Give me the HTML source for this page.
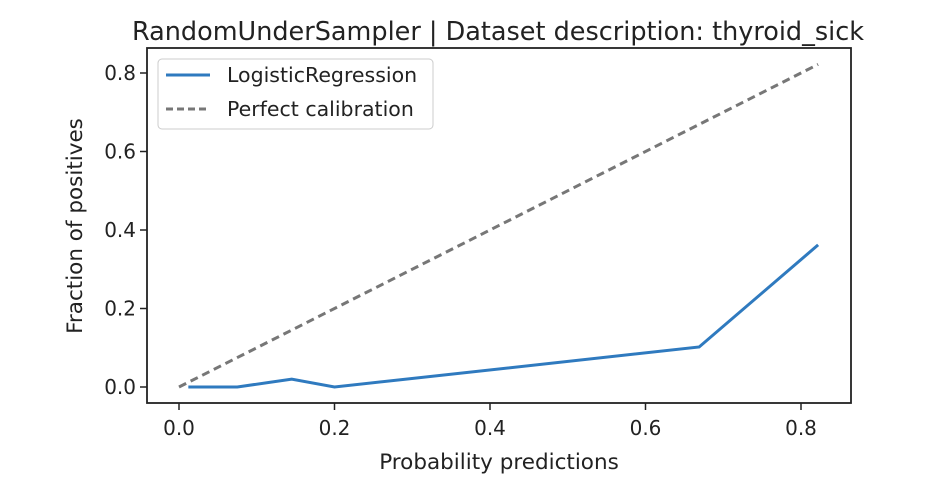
<!DOCTYPE html>
<html><head><meta charset="utf-8"><style>
body{margin:0;background:#fff;}
text{font-family:"DejaVu Sans","Liberation Sans",sans-serif;fill:#222;}
</style></head><body>
<svg id="chart" width="941" height="476" xmlns="http://www.w3.org/2000/svg">
<text x="498" y="40" font-size="25.5" text-anchor="middle">RandomUnderSampler | Dataset description: thyroid_sick</text>
<g id="plot"></g>
<text x="499" y="469" font-size="21.5" text-anchor="middle">Probability predictions</text>
<text transform="translate(82,226) rotate(-90)" font-size="21.5" text-anchor="middle">Fraction of positives</text>
<g>
<rect x="158" y="59" width="275" height="70" rx="4" fill="#fff" stroke="#ccc" stroke-width="1"/>
<line x1="166" y1="75" x2="210" y2="75" stroke="#2f7abf" stroke-width="3"/>
<text x="227" y="82" font-size="20.5">LogisticRegression</text>
<line x1="166" y1="109" x2="210" y2="109" stroke="#777" stroke-width="3" stroke-dasharray="7,4"/>
<text x="227" y="116" font-size="20.5">Perfect calibration</text>
</g>
</svg>
<script>
const probX=[0.012,0.075,0.145,0.2,0.669,0.822];
const fracY=[0,0,0.02,0,0.102,0.362];
const perfect=[0,0.822];
const xTicks=["0.0","0.2","0.4","0.6","0.8"];
const yTicks=["0.0","0.2","0.4","0.6","0.8"];
const L=147,R=851,T=48,B=403;
const xs=v=>179+777.5*v, ys=v=>387-392.5*v;
const g=document.getElementById('plot');
const NS="http://www.w3.org/2000/svg";
function mk(t,a){const e=document.createElementNS(NS,t);for(const k in a)e.setAttribute(k,a[k]);g.appendChild(e);return e;}
const fr=mk('rect',{x:L,y:T,width:R-L,height:B-T,fill:'none',stroke:'#222','stroke-width':1.8});


xTicks.forEach(t=>{const x=xs(parseFloat(t));
const l=mk('line',{x1:x,x2:x,y1:B,y2:B+7,stroke:'#222','stroke-width':1.5});


const tx=mk('text',{x:x,y:B+32,'font-size':20,'text-anchor':'middle'});tx.textContent=t;

});
yTicks.forEach(t=>{const y=ys(parseFloat(t));
const l=mk('line',{x1:L-7,x2:L,y1:y,y2:y,stroke:'#222','stroke-width':1.5});


const tx=mk('text',{x:L-11,y:y+7,'font-size':20,'text-anchor':'end'});tx.textContent=t;

});
const pl=mk('line',{x1:xs(perfect[0]),y1:ys(perfect[0]),x2:xs(perfect[1]),y2:ys(perfect[1]),stroke:'#777','stroke-width':3,'stroke-dasharray':'8,5'});


const ln=mk('polyline',{points:probX.map((v,i)=>xs(v)+','+ys(fracY[i])).join(' '),fill:'none',stroke:'#2f7abf','stroke-width':3});


</script>
</body></html>
